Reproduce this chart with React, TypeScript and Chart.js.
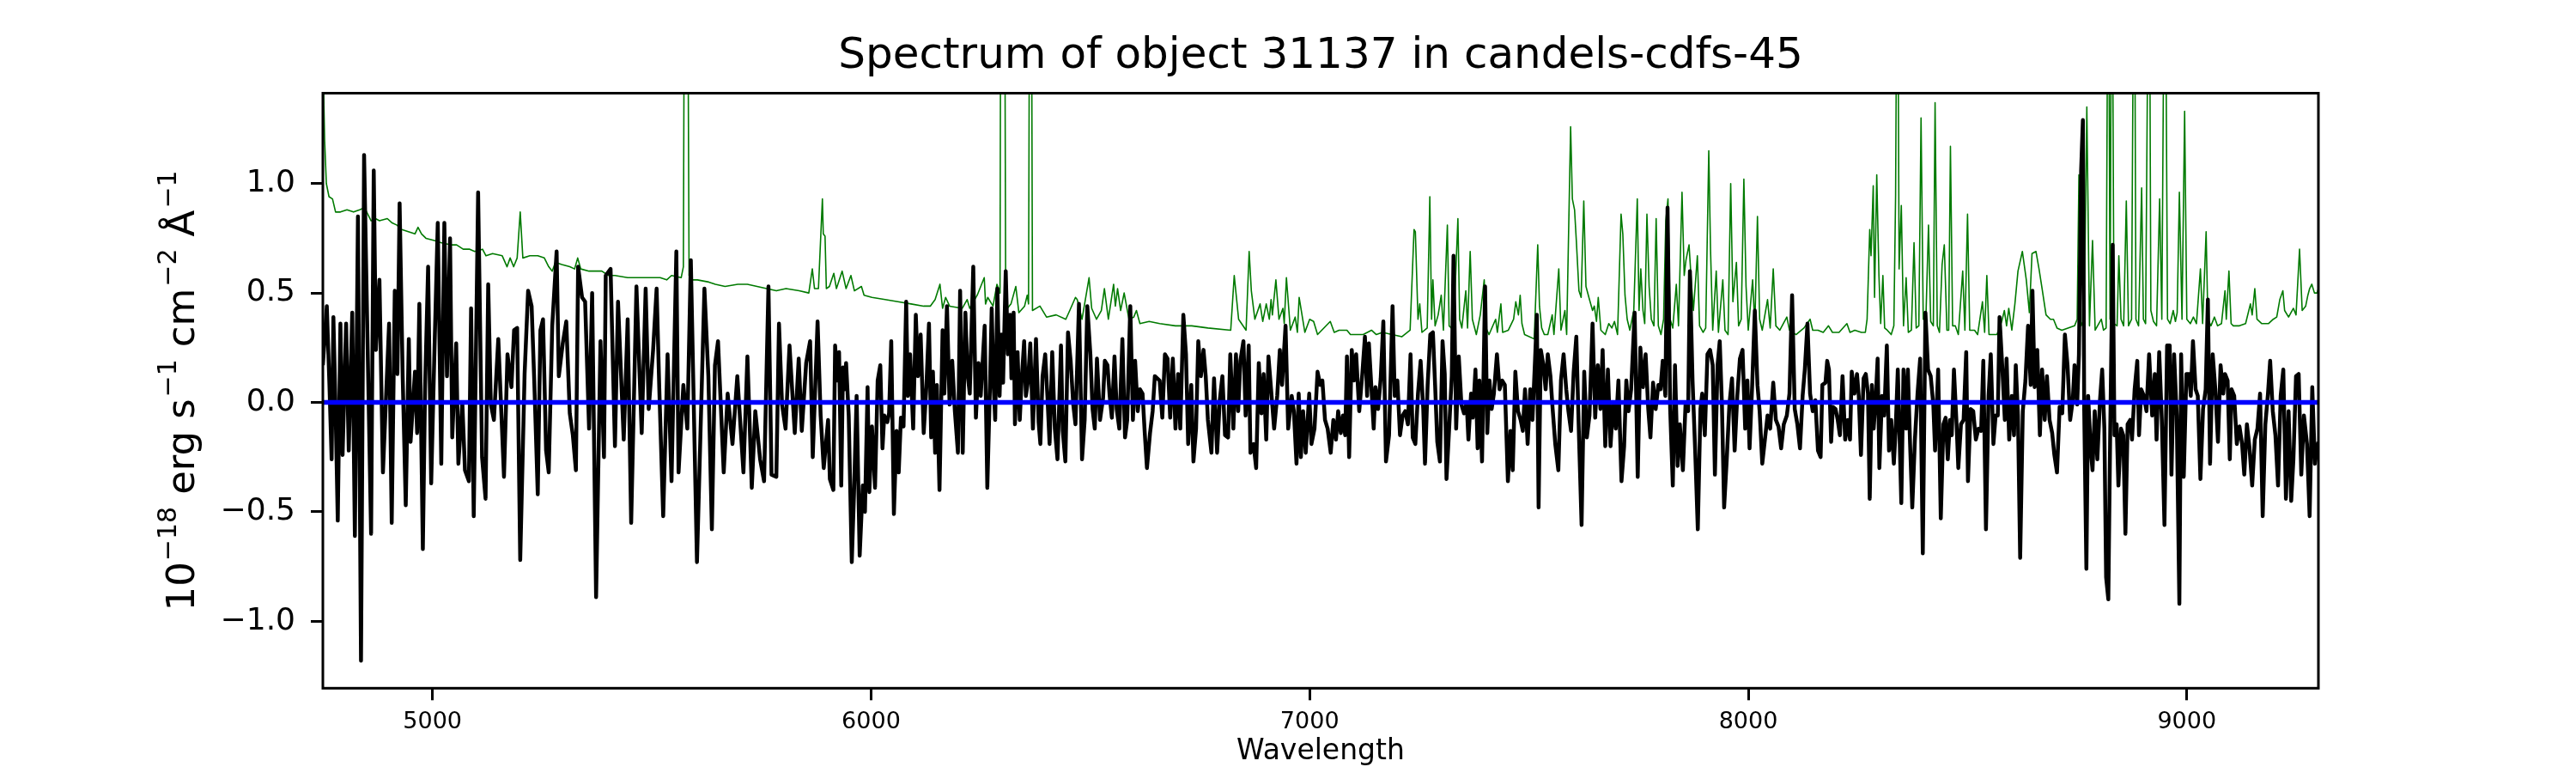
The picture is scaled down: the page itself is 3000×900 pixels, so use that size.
import { useEffect, useRef } from 'react'
import Chart from 'chart.js/auto'

const FONT = "'DejaVu Sans', 'Liberation Sans', sans-serif"

const TITLE = 'Spectrum of object 31137 in candels-cdfs-45'
const X_LABEL = 'Wavelength'

const X_MIN = 4750
const X_MAX = 9300
const Y_MIN = -1.306
const Y_MAX = 1.413

const X_TICKS = [5000, 6000, 7000, 8000, 9000]
const X_TICK_LABELS = ['5000', '6000', '7000', '8000', '9000']
const Y_TICKS = [-1.0, -0.5, 0.0, 0.5, 1.0]
const Y_TICK_LABELS = ['−1.0', '−0.5', '0.0', '0.5', '1.0']

// observed flux (black)
const FLUX_WAVE = [
  4750, 4759, 4765, 4770, 4774, 4779, 4784, 4790, 4795, 4803,
  4809, 4817, 4823, 4830, 4837, 4844, 4860, 4866, 4871, 4879,
  4887, 4901, 4907, 4914, 4920, 4925, 4932, 4939, 4946, 4950,
  4960, 4965, 4970, 4978, 4983, 4990, 4997, 5004, 5012, 5020,
  5027, 5033, 5040, 5045, 5054, 5059, 5068, 5074, 5083, 5088,
  5094, 5104, 5113, 5121, 5127, 5133, 5140, 5150, 5163, 5171,
  5180, 5186, 5193, 5200, 5210, 5218, 5226, 5232, 5240, 5246,
  5252, 5259, 5265, 5273, 5283, 5288, 5297, 5305, 5313, 5320,
  5327, 5332, 5341, 5348, 5357, 5364, 5373, 5383, 5391, 5395,
  5406, 5416, 5423, 5436, 5445, 5453, 5465, 5477, 5486, 5493,
  5503, 5511, 5517, 5526, 5536, 5545, 5556, 5561, 5572, 5581,
  5589, 5603, 5620, 5629, 5637, 5644, 5651, 5664, 5673, 5684,
  5695, 5709, 5718, 5728, 5736, 5747, 5756, 5766, 5773, 5784,
  5790, 5797, 5805, 5814, 5826, 5835, 5842, 5852, 5861, 5867,
  5878, 5885, 5892,
  5902, 5906, 5914, 5918, 5923, 5927, 5932, 5936, 5940, 5943,
  5949, 5956, 5961, 5967, 5974, 5981, 5986, 5992, 5996, 6002,
  6009, 6015, 6021, 6026, 6030, 6037, 6041, 6046, 6052, 6058,
  6063, 6068, 6074, 6080, 6084, 6089, 6096, 6102, 6107, 6113,
  6120, 6126, 6132, 6137, 6141, 6146, 6150, 6156, 6163, 6167,
  6173, 6179, 6185, 6191, 6198, 6203, 6209, 6215, 6220, 6225,
  6233, 6239, 6245, 6250, 6259, 6265, 6271, 6275, 6279, 6283,
  6288, 6293, 6297, 6301, 6307, 6312, 6317, 6320, 6325, 6328,
  6334, 6339, 6343, 6349, 6353, 6358, 6363, 6369, 6376, 6382,
  6386, 6391, 6397, 6402, 6407, 6413, 6419, 6425, 6433, 6437,
  6443, 6449, 6455, 6461, 6466, 6474, 6481, 6487, 6493, 6500,
  6505, 6510, 6515, 6522, 6529, 6533, 6539, 6544, 6549, 6555,
  6560, 6566, 6573, 6579, 6584, 6591, 6597, 6602, 6608, 6613,
  6619, 6624, 6629, 6636, 6642, 6647, 6658, 6664, 6670, 6676,
  6682, 6688, 6694, 6700, 6705, 6712, 6718, 6723, 6730, 6735,
  6741, 6746, 6752, 6758, 6763, 6768, 6776, 6782, 6789, 6795,
  6801, 6807, 6814, 6819, 6826, 6832, 6837, 6842, 6849, 6854,
  6861, 6865, 6872, 6878, 6884, 6890, 6895, 6901, 6906, 6912,
  6919, 6926, 6932, 6937, 6945, 6951, 6959, 6964, 6970, 6975,
  6980, 6985, 6991, 6999, 7004, 7011, 7018, 7024, 7029, 7035,
  7041, 7048, 7054, 7060, 7065, 7071, 7076, 7081, 7085, 7090,
  7096, 7101, 7106, 7113, 7120, 7126, 7131, 7135, 7141, 7146,
  7150, 7156, 7162, 7168, 7174, 7181, 7189, 7194, 7200, 7206,
  7212, 7218, 7224, 7230, 7235, 7241, 7247, 7253, 7259, 7263,
  7269, 7275, 7281, 7286, 7291, 7297, 7303, 7308, 7312, 7318,
  7324, 7328, 7334, 7340, 7346, 7352, 7358, 7362, 7368, 7372,
  7378, 7383, 7387, 7393, 7400, 7405, 7410, 7415, 7420, 7427,
  7433, 7439, 7445, 7452, 7458, 7463, 7469, 7475, 7481, 7486,
  7491, 7497, 7503, 7508, 7514, 7518, 7522, 7527, 7533, 7538,
  7543, 7549, 7554, 7560, 7567, 7573, 7579, 7585, 7590, 7596,
  7602, 7608, 7614, 7620, 7626, 7632, 7638, 7645, 7651, 7657,
  7663, 7668, 7674, 7680, 7686, 7692, 7698, 7704, 7711, 7717,
  7722, 7727, 7733, 7741, 7748, 7754, 7760, 7766, 7772, 7777,
  7783, 7789, 7795, 7800, 7805, 7811, 7816, 7822, 7828, 7833,
  7839, 7844, 7851, 7857, 7863, 7867, 7873, 7879, 7885, 7891,
  7895, 7901, 7907, 7913, 7919, 7924, 7930, 7935, 7940, 7945,
  7951, 7957, 7963, 7969, 7975, 7981, 7987, 7993, 7998, 8003,
  8009, 8015, 8021, 8026, 8032, 8038, 8044, 8050, 8057, 8063,
  8069, 8075, 8081, 8088, 8094, 8100, 8106, 8112, 8118, 8124,
  8129, 8135, 8141, 8147, 8153, 8159, 8165, 8169,
  8176, 8180, 8184, 8189, 8193, 8199, 8204, 8209, 8215, 8221,
  8227, 8232, 8236, 8242, 8248, 8252, 8257, 8263, 8268, 8273,
  8277, 8282, 8286, 8291, 8295, 8299, 8305, 8310, 8316, 8321,
  8326, 8332, 8336, 8341, 8345, 8349, 8354, 8360, 8364, 8369,
  8374, 8380, 8386, 8392, 8398, 8404, 8410, 8416, 8422, 8426,
  8433, 8439, 8445, 8450, 8455, 8460, 8464, 8469, 8475, 8479,
  8485, 8491, 8497, 8501, 8507, 8513, 8519, 8525, 8531, 8536,
  8542, 8548, 8553, 8559, 8564, 8569, 8573, 8579, 8585, 8589,
  8595, 8601, 8606, 8610, 8615, 8620, 8626, 8632, 8638, 8644,
  8648, 8653, 8659, 8665, 8670, 8676, 8681, 8687, 8693, 8698,
  8704, 8710, 8716, 8722, 8728, 8734, 8740, 8744, 8750, 8754,
  8759, 8763, 8766, 8771, 8775, 8781, 8785, 8790, 8796, 8802,
  8807, 8812, 8816, 8821, 8825, 8831, 8835, 8840, 8844, 8850,
  8855, 8860, 8865, 8871, 8875, 8881, 8887, 8891, 8896, 8902,
  8908, 8914, 8921, 8927, 8931, 8937, 8943, 8949, 8955, 8961,
  8965, 8971, 8977, 8983, 8987, 8993, 8999, 9005, 9009, 9014,
  9020, 9025, 9031, 9037, 9043, 9048, 9053, 9059, 9065, 9071,
  9077, 9083, 9087, 9093, 9098, 9102, 9108, 9114, 9120, 9126,
  9131, 9137, 9143, 9149, 9155, 9161, 9167, 9173, 9179, 9185,
  9190, 9196, 9202, 9208, 9214, 9220, 9226, 9232, 9238, 9243,
  9249, 9255, 9261, 9267, 9274, 9280, 9286, 9292, 9297, 9300,
]

const FLUX_VALUES = [
  0.17, 0.44, 0.08, -0.26, 0.39, -0.03, -0.54, 0.36, -0.24, 0.36,
  -0.22, 0.41, -0.61, 0.85, -1.18, 1.13, -0.60, 1.06, 0.24, 0.56,
  -0.32, 0.36, -0.55, 0.51, 0.13, 0.91, 0.12, -0.47, 0.29, -0.18,
  0.14, -0.14, 0.45, -0.67, 0.06, 0.62, -0.37, 0.20, 0.82, -0.28,
  0.82, 0.12, 0.75, -0.16, 0.27, -0.28, 0.00, -0.31, -0.36, 0.43,
  -0.52, 0.96, -0.25, -0.44, 0.54, -0.01, -0.08, 0.29, -0.34, 0.22,
  0.07, 0.33, 0.34, -0.72, 0.13, 0.51, 0.44, 0.10, -0.42, 0.33,
  0.38, -0.22, -0.32, 0.35, 0.69, 0.12, 0.27, 0.37, -0.05, -0.15,
  -0.31, 0.62, 0.48, 0.46, -0.12, 0.50, -0.89, 0.28, -0.25, 0.58,
  0.61, -0.20, 0.46, -0.17, 0.38, -0.55, 0.53, -0.14, 0.52, -0.03,
  0.24, 0.52, 0.07, -0.52, 0.22, -0.36, 0.69, -0.32, 0.08, -0.12,
  0.65, -0.73, 0.52, 0.12, -0.58, 0.17, 0.28, -0.32, 0.04, -0.19,
  0.12, -0.32, 0.21, -0.39, -0.04, -0.26, -0.36, 0.53, -0.33, -0.34,
  0.36, -0.01, -0.12, 0.26, -0.14, 0.20, -0.13, 0.18, 0.28, -0.25,
  0.37, -0.06, -0.30,
  -0.08, -0.35, -0.40, 0.26, 0.10, 0.23, -0.38, 0.16, 0.06, 0.18,
  -0.06, -0.73, -0.42, 0.03, -0.70, -0.38, -0.50, 0.07, -0.41, -0.11,
  -0.39, 0.10, 0.17, -0.21, -0.06, -0.09, -0.05, 0.28, -0.51, -0.13,
  -0.32, -0.07, -0.11, 0.46, 0.03, 0.22, -0.12, 0.40, 0.12, 0.31,
  -0.14, 0.07, 0.36, -0.16, 0.14, -0.23, 0.08, -0.40, 0.33, 0.04,
  0.44, -0.01, 0.19, -0.04, -0.23, 0.51, -0.23, 0.41, 0.13, 0.04,
  0.62, -0.07, 0.18, 0.03, 0.35, -0.39, 0.07, 0.43, 0.10, -0.08,
  0.52, 0.03, 0.31, 0.09, 0.60, 0.22, 0.40, 0.11, 0.41, -0.10,
  0.23, -0.08, 0.09, 0.28, 0.03, 0.10, 0.27, -0.12, 0.29, -0.09,
  -0.19, 0.12, 0.22, 0.03, -0.19, 0.23, -0.12, -0.26, 0.26, -0.13,
  -0.27, 0.32, 0.19, -0.01, -0.10, 0.45, -0.26, -0.08, 0.44, 0.22,
  -0.03, -0.12, 0.20, -0.08, 0.02, 0.19, 0.17, 0.03, -0.07, 0.21,
  -0.03, -0.12, 0.29, -0.16, -0.08, 0.44, -0.08, 0.19, -0.04, 0.06,
  0.04, -0.14, -0.30, -0.14, -0.04, 0.12, 0.10, -0.07, 0.22, 0.20,
  -0.07, 0.20, -0.12, 0.13, -0.12, 0.40, 0.22, -0.19, 0.08, -0.27,
  -0.12, 0.28, 0.12, 0.24, 0.12, -0.08, -0.23, 0.11, -0.23, 0.01,
  0.12, -0.15, -0.16, 0.22, -0.12, 0.22, -0.04, 0.19, 0.28, -0.06,
  0.26, -0.23, -0.19, -0.30, 0.18, -0.05, 0.13, -0.17, 0.21, 0.06,
  -0.12, 0.03, 0.24, 0.08, 0.35, -0.12, 0.03, -0.04, -0.28, 0.04,
  -0.25, -0.04, -0.23, 0.04, -0.19, -0.12, 0.14, 0.08, 0.10, -0.08,
  -0.12, -0.23, -0.08, -0.17, -0.04, -0.14, -0.06, -0.15, 0.21, -0.25,
  0.24, 0.10, 0.22, -0.04, 0.13, 0.30, 0.03, 0.27, 0.06, -0.12,
  0.07, -0.03, 0.11, 0.37, -0.27, -0.15, 0.44, 0.03, 0.10, -0.15,
  -0.06, -0.04, -0.10, 0.22, -0.16, -0.19, 0.04, 0.19, -0.03, -0.28,
  0.08, 0.31, 0.32, 0.08, -0.18, -0.27, 0.28, 0.13, -0.35, -0.12,
  0.12, 0.67, -0.12, 0.21, -0.01, -0.05, 0.00, -0.17, 0.04, -0.07,
  0.15, -0.21, 0.10, -0.27, 0.53, -0.14, 0.10, -0.03, 0.04, 0.22,
  0.06, 0.10, 0.08, -0.36, -0.13, -0.31, 0.14, -0.04, -0.08, -0.13,
  0.06, -0.19, 0.06, -0.08, 0.20, 0.40, -0.48, 0.24, 0.17, 0.06,
  0.22, 0.12, -0.03, -0.19, -0.31, 0.10, 0.22, 0.06, -0.04, -0.13,
  0.14, 0.30, -0.15, -0.56, 0.14, -0.16, -0.06, 0.36, -0.07, 0.17,
  -0.03, 0.24, -0.20, 0.15, -0.20, 0.00, -0.12, 0.10, -0.36, -0.20,
  0.10, -0.04, 0.06, 0.41, -0.34, 0.25, 0.07, 0.22, -0.03, -0.16,
  0.09, -0.03, 0.08, 0.06, 0.19, 0.03, 0.89, -0.03, -0.38, 0.17,
  -0.29, -0.10, -0.31, -0.01, -0.04, 0.60, 0.10, -0.22, -0.58, -0.03,
  0.04, -0.15, 0.22, 0.24, 0.17, -0.33, 0.17, 0.28, -0.01, -0.48,
  -0.26, -0.01, 0.11, -0.22, 0.03, 0.20, 0.24, -0.12, 0.10, -0.21,
  0.08, 0.42, 0.08, -0.04, -0.28, -0.17, -0.06, -0.12, 0.09, -0.08,
  -0.11, -0.21, -0.10, -0.06, 0.04, 0.49, -0.03, -0.10, -0.21, 0.03,
  0.15, 0.36, 0.04, -0.04, 0.01, -0.22, -0.25, 0.08,
  0.09, 0.19, 0.15, -0.18, -0.02, -0.03, -0.08, -0.15, 0.12, -0.17,
  -0.08, -0.17, 0.14, 0.04, 0.13, 0.03, -0.24, 0.11, 0.13, 0.04,
  -0.44, 0.08, -0.12, 0.03, 0.20, -0.30, 0.03, -0.06, 0.26, -0.22,
  -0.08, -0.28, -0.13, 0.15, -0.15, -0.46, 0.15, -0.12, 0.15, -0.19,
  -0.48, -0.17, 0.04, 0.20, -0.69, 0.41, 0.15, 0.12, -0.01, -0.22,
  0.15, -0.53, -0.10, -0.07, -0.26, -0.08, -0.15, 0.15, -0.10, -0.30,
  -0.10, -0.08, 0.23, -0.36, -0.03, -0.04, -0.17, -0.12, -0.13, 0.19,
  -0.58, 0.03, 0.22, -0.19, -0.06, -0.06, 0.39, 0.17, -0.08, 0.20,
  -0.17, 0.03, -0.15, 0.17, -0.06, -0.71, -0.04, 0.10, 0.35, 0.08,
  0.51, 0.07, 0.24, -0.15, 0.15, -0.08, 0.12, -0.08, -0.14, -0.24,
  -0.32, -0.02, -0.05, 0.31, 0.17, -0.08, 0.01, 0.17, -0.01, 0.22,
  1.06, 1.29, -0.03, -0.76, 0.03, -0.22, -0.31, -0.04, -0.26, 0.01,
  0.15, -0.12, -0.80, -0.90, -0.19, 0.72, -0.15, -0.10, -0.38, -0.12,
  -0.15, -0.60, -0.10, -0.08, -0.17, 0.06, 0.19, -0.15, 0.06, 0.03,
  -0.04, 0.22, -0.06, 0.13, -0.17, 0.23, -0.08, -0.56, 0.26, 0.26,
  -0.33, 0.22, -0.06, -0.92, 0.22, -0.34, 0.13, 0.13, 0.03, 0.28,
  0.06, 0.03, -0.35, -0.03, 0.06, 0.47, -0.28, 0.22, 0.06, -0.18,
  0.17, 0.04, 0.13, 0.10, -0.26, 0.06, 0.03, -0.19, -0.11, -0.19,
  -0.33, -0.10, -0.21, -0.38, -0.17, -0.12, 0.04, -0.52, -0.10, 0.04,
  0.19, -0.04, -0.15, -0.38, 0.03, 0.15, -0.44, -0.04, -0.45, -0.26,
  0.12, 0.13, -0.33, -0.06, -0.19, -0.52, 0.07, -0.28, -0.21, -0.18,
]

// sky / noise spectrum (green)
const SKY_WAVE = [
  4750, 4754, 4758, 4764, 4772, 4779, 4790, 4805, 4820, 4834,
  4845, 4860, 4870, 4879, 4897, 4908, 4919, 4930, 4945, 4960,
  4967, 4975, 4985, 5004, 5019, 5041, 5055, 5070, 5085, 5096,
  5114, 5122, 5137, 5159, 5170, 5177, 5185, 5193, 5200, 5206,
  5222, 5240, 5255, 5265, 5273, 5280, 5295, 5313, 5324, 5331,
  5338, 5357, 5386, 5401, 5416, 5445, 5482, 5519, 5534, 5545,
  5567, 5572, 5575, 5581, 5585, 5593, 5604, 5630, 5645, 5667,
  5696, 5718, 5740, 5762, 5784, 5806, 5836, 5858, 5866, 5871,
  5880, 5889, 5891, 5895, 5898, 5905, 5915, 5921, 5934, 5943,
  5954, 5962, 5978, 5984, 6002, 6032, 6061, 6091, 6120, 6135,
  6146, 6157, 6163, 6170, 6179, 6208, 6219, 6225, 6242, 6258,
  6261, 6266, 6278, 6287, 6294, 6296, 6304, 6307, 6319, 6330,
  6337, 6350, 6356, 6359, 6362, 6365, 6368, 6385, 6400, 6422,
  6444, 6453, 6466, 6470, 6481, 6497, 6503, 6514, 6525, 6532,
  6541, 6553, 6557, 6562, 6569, 6577, 6588, 6599, 6605, 6613,
  6634, 6658, 6694, 6731, 6768, 6820, 6828, 6838, 6855, 6862,
  6867, 6875, 6887, 6893, 6901, 6908, 6912, 6915, 6923, 6930,
  6939, 6942, 6947, 6956, 6967, 6972, 6976, 6989, 7000, 7009,
  7018, 7047, 7056, 7067, 7085, 7093, 7122, 7141, 7152, 7166,
  7188, 7210, 7229, 7238, 7241, 7247, 7251, 7256, 7268, 7274,
  7278, 7281, 7286, 7293, 7300, 7305, 7314, 7318, 7328, 7338,
  7342, 7347, 7356, 7360, 7366, 7371, 7380, 7389, 7398, 7402,
  7409, 7424, 7428, 7436, 7440, 7453, 7465, 7470, 7476, 7480,
  7484, 7490, 7512, 7520, 7524, 7529, 7535, 7543, 7553, 7557,
  7568, 7573, 7582, 7586, 7595, 7599, 7604, 7608, 7614, 7619,
  7625, 7630, 7638, 7645, 7649, 7654, 7658, 7664, 7674, 7682,
  7689, 7695, 7702, 7710, 7714, 7719, 7724, 7730, 7739, 7747,
  7751, 7755, 7760, 7764, 7769, 7774, 7779, 7785, 7790, 7795,
  7801, 7807, 7812, 7817, 7822, 7828, 7836, 7841, 7849, 7854,
  7858, 7865, 7870, 7875, 7884, 7889, 7897, 7903, 7910, 7914,
  7919, 7927, 7932, 7942, 7947, 7954, 7960, 7965, 7973, 7978,
  7984, 7990, 7995, 8000, 8010, 8015, 8021, 8026, 8032, 8044,
  8050, 8057, 8063, 8072, 8088, 8094, 8109, 8127, 8141, 8147,
  8159, 8171, 8183, 8192, 8207, 8225, 8232, 8243, 8258, 8267,
  8271, 8277, 8280, 8285, 8288, 8293, 8298, 8302, 8307, 8311,
  8317, 8326, 8332, 8336, 8340, 8344, 8349, 8354, 8360, 8365,
  8372, 8378, 8383, 8389, 8394, 8399, 8405, 8411, 8416, 8422,
  8426, 8431, 8436, 8442, 8447, 8453, 8457, 8461, 8466, 8472,
  8479, 8489, 8494, 8500, 8505, 8516, 8523, 8534, 8539, 8544,
  8549, 8567, 8578, 8584, 8589, 8594, 8601, 8608, 8615, 8625,
  8634, 8641, 8647, 8656, 8663, 8670, 8679, 8689, 8696, 8704,
  8715, 8729, 8744, 8750, 8754, 8759, 8766, 8772, 8778, 8785,
  8791, 8805, 8810, 8816, 8821, 8825, 8829, 8834, 8841, 8845,
  8850, 8856, 8862, 8867, 8874, 8880, 8884, 8890, 8897, 8901,
  8906, 8914, 8918, 8924, 8931, 8938, 8943, 8950, 8956, 8962,
  8969, 8974, 8978, 8983, 8989, 8995, 9000, 9008, 9015, 9022,
  9031, 9036, 9044, 9048, 9055, 9063, 9070, 9079, 9087, 9090,
  9096, 9101, 9106, 9120, 9134, 9145, 9149, 9155, 9160, 9171,
  9186, 9197, 9205, 9212, 9219, 9223, 9232, 9243, 9249, 9257,
  9263, 9271, 9276, 9280, 9285, 9291, 9297, 9300,
]

const SKY_VALUES = [
  1.60, 1.20, 1.00, 0.94, 0.93, 0.87, 0.87, 0.88, 0.87, 0.88,
  0.89, 0.83, 0.84, 0.83, 0.84, 0.82, 0.81, 0.79, 0.78, 0.77,
  0.80, 0.77, 0.75, 0.74, 0.73, 0.72, 0.72, 0.70, 0.70, 0.69,
  0.70, 0.67, 0.68, 0.67, 0.62, 0.66, 0.62, 0.66, 0.87, 0.66,
  0.67, 0.67, 0.66, 0.62, 0.60, 0.64, 0.63, 0.62, 0.61, 0.66,
  0.61, 0.60, 0.60, 0.58, 0.58, 0.57, 0.57, 0.57, 0.56, 0.58,
  0.57, 0.62, 2.50, 2.50, 0.58, 0.56, 0.56, 0.55, 0.54, 0.53,
  0.54, 0.54, 0.53, 0.52, 0.51, 0.52, 0.51, 0.50, 0.61, 0.52,
  0.52, 0.93, 0.77, 0.76, 0.52, 0.53, 0.59, 0.52, 0.60, 0.52,
  0.58, 0.51, 0.53, 0.49, 0.48, 0.47, 0.46, 0.45, 0.44, 0.44,
  0.47, 0.54, 0.43, 0.48, 0.44, 0.43, 0.47, 0.43, 0.49, 0.57,
  0.45, 0.48, 0.44, 0.54, 0.50, 2.50, 2.50, 0.42, 0.45, 0.53,
  0.41, 0.44, 0.49, 0.45, 2.50, 2.50, 0.42, 0.44, 0.39, 0.40,
  0.38, 0.42, 0.48, 0.47, 0.38, 0.57, 0.43, 0.38, 0.42, 0.52,
  0.38, 0.54, 0.44, 0.52, 0.42, 0.50, 0.38, 0.39, 0.42, 0.36,
  0.37, 0.36, 0.35, 0.35, 0.34, 0.33, 0.58, 0.38, 0.33, 0.69,
  0.51, 0.38, 0.45, 0.37, 0.45, 0.38, 0.47, 0.40, 0.56, 0.38,
  0.43, 0.36, 0.57, 0.33, 0.39, 0.32, 0.48, 0.32, 0.38, 0.37,
  0.31, 0.37, 0.32, 0.33, 0.33, 0.31, 0.31, 0.33, 0.31, 0.32,
  0.31, 0.30, 0.33, 0.79, 0.78, 0.38, 0.45, 0.32, 0.34, 0.94,
  0.38, 0.56, 0.35, 0.40, 0.49, 0.33, 0.81, 0.35, 0.33, 0.84,
  0.38, 0.34, 0.51, 0.34, 0.69, 0.38, 0.31, 0.40, 0.56, 0.34,
  0.31, 0.38, 0.32, 0.45, 0.32, 0.33, 0.38, 0.46, 0.40, 0.49,
  0.36, 0.31, 0.29, 0.72, 0.44, 0.34, 0.31, 0.31, 0.40, 0.31,
  0.61, 0.33, 0.42, 0.31, 1.26, 0.93, 0.88, 0.74, 0.51, 0.48,
  0.92, 0.53, 0.47, 0.42, 0.44, 0.37, 0.48, 0.33, 0.31, 0.36,
  0.34, 0.37, 0.31, 0.86, 0.77, 0.49, 0.38, 0.33, 0.42, 0.93,
  0.42, 0.61, 0.42, 0.36, 0.86, 0.53, 0.38, 0.35, 0.84, 0.35,
  0.31, 0.38, 0.83, 0.93, 0.38, 0.34, 0.54, 0.35, 0.96, 0.58,
  0.65, 0.72, 0.56, 0.42, 0.67, 0.35, 0.32, 0.34, 1.15, 0.70,
  0.33, 0.60, 0.32, 0.56, 0.33, 0.31, 1.00, 0.46, 0.64, 0.35,
  0.38, 1.02, 0.53, 0.33, 0.56, 0.35, 0.85, 0.38, 0.33, 0.47,
  0.34, 0.61, 0.35, 0.33, 0.39, 0.33, 0.31, 0.34, 0.38, 0.33,
  0.33, 0.32, 0.35, 0.32, 0.32, 0.36, 0.32, 0.33, 0.32, 0.32,
  0.38, 0.79, 0.67, 0.99, 0.48, 1.04, 0.58, 0.36, 0.58, 0.34,
  0.33, 0.31, 0.35, 0.95, 2.50, 0.61, 0.90, 0.35, 0.57, 0.32,
  0.33, 0.73, 0.34, 0.35, 1.30, 0.38, 0.38, 0.81, 0.37, 0.35,
  1.37, 0.35, 0.32, 0.63, 0.72, 0.33, 0.33, 1.17, 0.35, 0.35,
  0.31, 0.60, 0.33, 0.86, 0.33, 0.33, 0.31, 0.46, 0.32, 0.58,
  0.31, 0.31, 0.37, 0.42, 0.35, 0.43, 0.33, 0.45, 0.60, 0.69,
  0.56, 0.41, 0.68, 0.69, 0.61, 0.52, 0.40, 0.38, 0.38, 0.34,
  0.33, 0.34, 0.35, 0.38, 1.04, 0.35, 0.38, 1.35, 0.35, 0.74,
  0.33, 0.38, 0.33, 0.34, 2.50, 0.38, 2.50, 0.36, 0.35, 0.67,
  0.38, 0.35, 0.92, 0.35, 0.38, 2.50, 0.38, 0.35, 0.98, 0.38,
  0.36, 2.50, 0.42, 0.37, 0.35, 0.93, 0.38, 2.50, 0.38, 0.36,
  0.42, 0.37, 0.41, 0.96, 0.38, 1.33, 0.38, 0.36, 0.39, 0.36,
  0.61, 0.36, 0.78, 0.38, 0.35, 0.39, 0.35, 0.36, 0.51, 0.38,
  0.60, 0.36, 0.35, 0.35, 0.36, 0.45, 0.40, 0.52, 0.38, 0.36,
  0.36, 0.38, 0.39, 0.47, 0.51, 0.42, 0.39, 0.43, 0.40, 0.70,
  0.42, 0.44, 0.49, 0.52, 0.54, 0.50, 0.50, 0.52,
]

// zero level (blue)
const ZERO_WAVE = [4750, 9300]
const ZERO_VALUES = [0, 0]

// where the axes box sits on the 3000x900 canvas
const BOX_LEFT = 376
const BOX_RIGHT = 2700
const BOX_TOP = 108.5
const BOX_BOTTOM = 801.3

const toPoints = (xs: number[], ys: number[]) => xs.map((x, i) => ({ x, y: ys[i] }))

// y label with superscripts, drawn rotated
const Y_LABEL_PARTS = [
  { text: '10', sup: false, gap: 1 },
  { text: '−18', sup: true, gap: 14 },
  { text: 'erg', sup: false, gap: 14 },
  { text: 's', sup: false, gap: 2 },
  { text: '−1', sup: true, gap: 14 },
  { text: 'cm', sup: false, gap: 2 },
  { text: '−2', sup: true, gap: 14 },
  { text: 'Å', sup: false, gap: 2 },
  { text: '−1', sup: true, gap: 0 },
]

const decorPlugin = {
  id: 'decor',
  afterDraw(chart: any) {
    const { ctx, chartArea } = chart
    const { left, right, top, bottom } = chartArea
    const midX = (left + right) / 2
    ctx.save()

    // axes box
    ctx.strokeStyle = '#000'
    ctx.lineWidth = 3
    ctx.strokeRect(left, top, right - left, bottom - top)

    ctx.fillStyle = '#000'
    ctx.textAlign = 'center'
    ctx.textBaseline = 'alphabetic'
    ctx.font = `50px ${FONT}`
    ctx.fillText(TITLE, midX, 79)

    ctx.font = `33px ${FONT}`
    ctx.fillText(X_LABEL, midX, 884)

    // y label
    const mainFont = `45px ${FONT}`
    const supFont = `30px ${FONT}`
    let total = 0
    const widths = Y_LABEL_PARTS.map(p => {
      ctx.font = p.sup ? supFont : mainFont
      const w = ctx.measureText(p.text).width
      total += w + p.gap
      return w
    })
    ctx.translate(226, (top + bottom) / 2)
    ctx.rotate(-Math.PI / 2)
    ctx.textAlign = 'left'
    let u = -total / 2
    Y_LABEL_PARTS.forEach((p, i) => {
      ctx.font = p.sup ? supFont : mainFont
      ctx.fillText(p.text, u, p.sup ? -21 : 0)
      u += widths[i] + p.gap
    })
    ctx.restore()
  },
}

export default function App() {
  const canvasRef = useRef<HTMLCanvasElement>(null)
  const chartRef = useRef<Chart | null>(null)

  useEffect(() => {
    if (!canvasRef.current) return
    if (chartRef.current) chartRef.current.destroy()

    const tickGrid = {
      drawOnChartArea: false,
      drawTicks: true,
      tickLength: 14,
      lineWidth: 3,
      color: '#000',
    }

    chartRef.current = new Chart(canvasRef.current, {
      type: 'line',
      data: {
        datasets: [
          {
            label: 'zero',
            data: toPoints(ZERO_WAVE, ZERO_VALUES),
            borderColor: '#0000ff',
            borderWidth: 5.5,
          },
          {
            label: 'flux',
            data: toPoints(FLUX_WAVE, FLUX_VALUES),
            borderColor: '#000000',
            borderWidth: 4.5,
          },
          {
            label: 'sky',
            data: toPoints(SKY_WAVE, SKY_VALUES),
            borderColor: '#007a00',
            borderWidth: 1.6,
          },
        ],
      },
      options: {
        animation: false,
        responsive: false,
        devicePixelRatio: 1,
        events: [],
        datasets: {
          line: {
            pointRadius: 0,
            tension: 0,
            fill: false,
            clip: 0,
            borderJoinStyle: 'round',
          },
        },
        layout: {
          autoPadding: false,
          padding: { left: 0, right: 3000 - BOX_RIGHT, top: BOX_TOP, bottom: 0 },
        },
        plugins: {
          legend: { display: false },
          tooltip: { enabled: false },
          title: { display: false },
        },
        scales: {
          x: {
            type: 'linear',
            min: X_MIN,
            max: X_MAX,
            afterBuildTicks: (scale: any) => {
              scale.ticks = X_TICKS.map(value => ({ value }))
            },
            afterFit: (scale: any) => {
              scale.height = 900 - BOX_BOTTOM
            },
            grid: tickGrid,
            border: { display: false },
            ticks: {
              autoSkip: false,
              maxRotation: 0,
              padding: 9,
              color: '#000',
              font: { family: FONT, size: 27 },
              callback: (value: any) => X_TICK_LABELS[X_TICKS.indexOf(Number(value))],
            },
          },
          y: {
            type: 'linear',
            min: Y_MIN,
            max: Y_MAX,
            afterBuildTicks: (scale: any) => {
              scale.ticks = Y_TICKS.map(value => ({ value }))
            },
            afterFit: (scale: any) => {
              scale.width = BOX_LEFT
            },
            grid: tickGrid,
            border: { display: false },
            ticks: {
              autoSkip: false,
              padding: 18,
              color: '#000',
              font: { family: FONT, size: 36 },
              callback: (value: any) => Y_TICK_LABELS[Y_TICKS.indexOf(Number(value))],
            },
          },
        },
      },
      plugins: [decorPlugin],
    } as any)

    return () => {
      if (chartRef.current) {
        chartRef.current.destroy()
        chartRef.current = null
      }
    }
  }, [])

  return (
    <div style={{ position: 'absolute', left: 0, top: 0, width: 3000, height: 900, background: '#fff' }}>
      <canvas ref={canvasRef} width={3000} height={900} style={{ display: 'block' }} />
    </div>
  )
}
